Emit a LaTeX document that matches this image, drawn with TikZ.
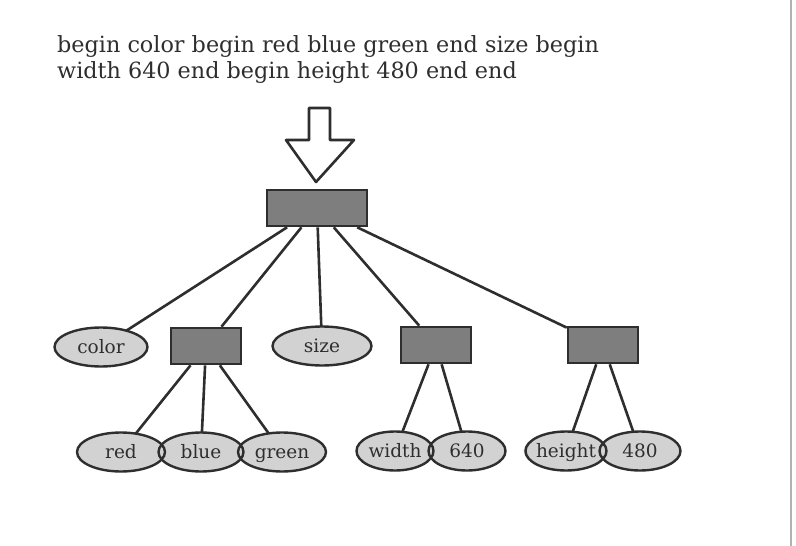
\documentclass[tikz,border=0pt]{standalone}
\usepackage{fontspec}
\setmainfont{DejaVu Serif}
\usetikzlibrary{shapes.geometric}
\definecolor{inkc}{HTML}{2E2E2E}
\definecolor{boxc}{HTML}{7E7E7E}
\definecolor{leafc}{HTML}{D2D2D2}
\tikzset{
    rec/.style={draw=inkc, fill=boxc, line width=2.6pt, minimum width=100pt, minimum height=36pt, inner sep=0pt},
    leaf/.style={ellipse, fill=leafc, minimum height=39pt, inner sep=0pt, text=inkc, text height=16pt, text depth=4pt, font=\fontsize{18.5}{20}\selectfont},
    leafrim/.style={ellipse, draw=inkc, line width=2.4pt, minimum height=39pt, inner sep=0pt},
    link/.style={draw=inkc, line width=2.6pt},
}
\def\leaves{color/101/347/93, size/322/346/99, red/121/452/88, blue/201/452/85, green/282/452/88, width/395/451/77, 640/467/451/77, height/566/451/81, 480/640/451/81}
\begin{document}
\begin{tikzpicture}[x=1pt, y=-1pt]
    \useasboundingbox (0,0) rectangle (796,546);
    \draw[gray!60, line width=1.2pt] (791,0) -- (791,546);

    \node[anchor=north west, inner sep=0pt, align=left, text=inkc, font=\fontsize{22.3}{26}\selectfont] (src) at (57,35)
        {begin color begin red blue green end size begin\\width 640 end begin height 480 end end};

    % hollow arrow
    \draw[inkc, line width=2.6pt, line join=round, fill=white] (309,108) -- (330,108) -- (330,140) -- (354,140) -- (316,182) -- (286,140) -- (309,140) -- cycle;

    \node[rec] (root) at (317,208) {};
    \node[rec, minimum width=70pt] (rgb) at (206,346) {};
    \node[rec, minimum width=70pt] (wd) at (436,345) {};
    \node[rec, minimum width=70pt] (ht) at (603,345) {};

    \foreach \n/\x/\y/\w in \leaves {
        \node[leaf, minimum width=\w] (l-\n) at (\x,\y) {\n};
    }

    \foreach \a/\b in {root/l-color, root/rgb, root/l-size, root/wd, root/ht, rgb/l-red, rgb/l-blue, rgb/l-green, wd/l-width, wd/l-640, ht/l-height, ht/l-480} {
        \draw[link] (\a) -- (\b);
    }

    \foreach \n/\x/\y/\w in \leaves {
        \node[leafrim, minimum width=\w] at (l-\n) {};
    }
\end{tikzpicture}
\end{document}
